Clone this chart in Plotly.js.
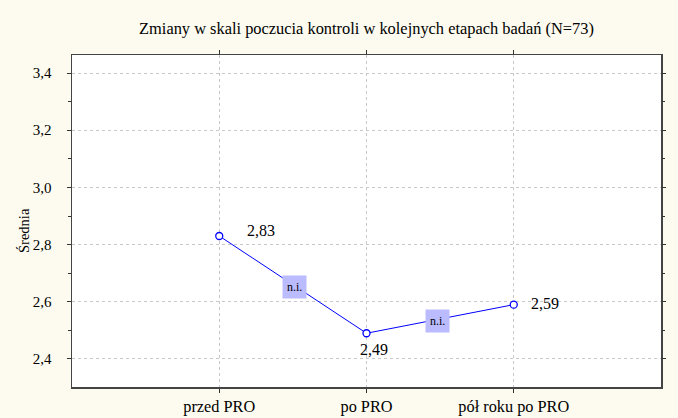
<!DOCTYPE html>
<html>
<head>
<meta charset="utf-8">
<script src="https://cdn.plot.ly/plotly-3.0.1.min.js"></script>
<style>html,body{margin:0;padding:0;background:#FDFBEF;}</style>
</head>
<body>
<div id="chart" style="width:678px;height:418px;"></div>
<script>
const categories = ["przed PRO", "po PRO", "pół roku po PRO"];
const means = [2.83, 2.49, 2.59];
const meanLabels = ["2,83", "2,49", "2,59"];
const sigLabels = ["n.i.", "n.i."];
const yTickVals = [2.4, 2.6, 2.8, 3.0, 3.2, 3.4];
const yTickText = ["2,4", "2,6", "2,8", "3,0", "3,2", "3,4"];

const serif = "Liberation Serif";
const xIdx = categories.map((c, i) => i);
const yRange = [2.302, 3.463];

const trace = {
  x: xIdx,
  y: means,
  type: "scatter",
  mode: "lines+markers",
  line: {color: "#0000FF", width: 1},
  marker: {symbol: "circle", size: 7, color: "#FFFFFF", line: {width: 1.3, color: "#0000FF"}},
  hoverinfo: "skip",
  showlegend: false
};
const tickTrace = {
  x: xIdx, y: means, yaxis: "y2", type: "scatter", mode: "none",
  hoverinfo: "skip", showlegend: false
};

const labelShifts = [
  {xanchor: "left", xshift: 26, yshift: 6},
  {xanchor: "center", xshift: 7, yshift: -16},
  {xanchor: "left", xshift: 15, yshift: 1}
];

const annotations = [];
means.forEach((v, i) => {
  annotations.push(Object.assign({
    x: xIdx[i], y: v, xref: "x", yref: "y",
    text: meanLabels[i], showarrow: false, yanchor: "middle",
    font: {family: serif, size: 16, color: "#000"}
  }, labelShifts[i]));
});
sigLabels.forEach((t, i) => {
  annotations.push({
    x: (xIdx[i] + xIdx[i + 1]) / 2, y: (means[i] + means[i + 1]) / 2,
    xref: "x", yref: "y", text: t, showarrow: false,
    xanchor: "center", yanchor: "middle", xshift: i === 0 ? 2 : -3, yshift: -2,
    bgcolor: "#BBBBFF", borderpad: 4,
    font: {family: serif, size: 12, color: "#000"}
  });
});
annotations.push({
  x: -48 / 589, xref: "paper", y: 0.47, yref: "paper", text: "Średnia", showarrow: false,
  textangle: -90, xanchor: "center", yanchor: "middle",
  font: {family: serif, size: 14.5, color: "#000"}
});

const layout = {
  width: 678, height: 418,
  paper_bgcolor: "#FDFBEF",
  plot_bgcolor: "#FFFFFF",
  margin: {l: 72, r: 17, t: 55, b: 31},
  title: {
    text: "Zmiany w skali poczucia kontroli w kolejnych etapach badań (N=73)",
    font: {family: serif, size: 16.4, color: "#000"},
    x: 0.5, xref: "paper", xanchor: "center", y: 1, yref: "paper", yanchor: "bottom", pad: {b: 21}
  },
  xaxis: {
    range: [-1, 3],
    tickvals: xIdx, ticktext: categories,
    ticks: "outside", ticklen: 4, tickcolor: "#333",
    showline: true, linecolor: "#444", linewidth: 1.5, mirror: "ticks",
    showgrid: true, gridcolor: "#C8C8C8", griddash: "dot", gridwidth: 1,
    zeroline: false,
    tickfont: {family: serif, size: 16.3, color: "#000"}
  },
  yaxis: {
    range: yRange,
    tickvals: yTickVals, ticktext: yTickText,
    ticks: "outside", ticklen: 16, tickcolor: "rgba(0,0,0,0)",
    showline: true, linecolor: "#444", linewidth: 1.5, mirror: true,
    showgrid: true, gridcolor: "#C8C8C8", griddash: "dot", gridwidth: 1,
    zeroline: false,
    tickfont: {family: serif, size: 15, color: "#000"}
  },
  yaxis2: {
    overlaying: "y", side: "left", range: yRange,
    tickvals: yTickVals, showticklabels: false,
    ticks: "outside", ticklen: 4, tickcolor: "#333",
    minor: {dtick: 0.1, tick0: 2.3, ticks: "outside", ticklen: 3, tickcolor: "#333", showgrid: false},
    showline: false, mirror: "ticks", showgrid: false, zeroline: false
  },
  annotations: annotations
};

Plotly.newPlot("chart", [trace, tickTrace], layout, {displayModeBar: false, staticPlot: true});
</script>
</body>
</html>
